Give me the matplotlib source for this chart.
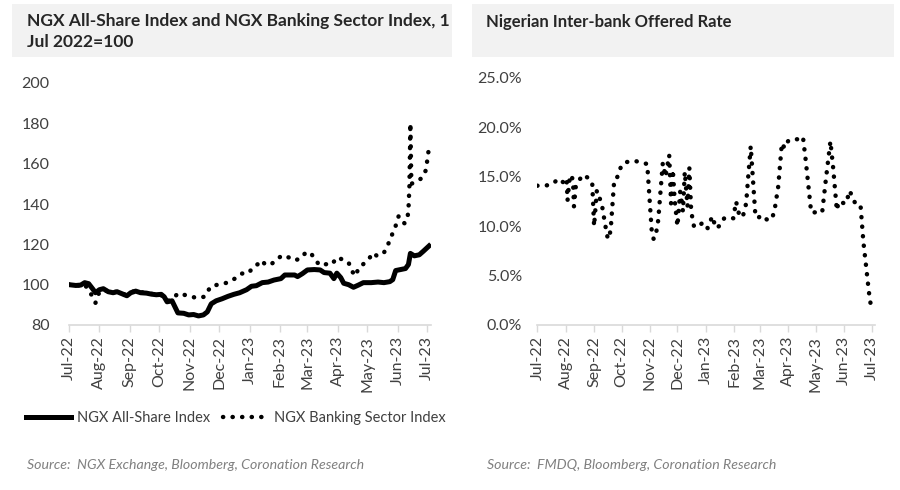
import pandas as pd
import matplotlib.pyplot as plt
import matplotlib.dates as mdates
from matplotlib.patches import Rectangle
from matplotlib.ticker import FuncFormatter

plt.rcParams['font.family'] = ['Lato', 'DejaVu Sans']

# NGX All-Share Index, rebased 1 Jul 2022 = 100
asi_dates = ["2022-07-01", "2022-07-08", "2022-07-13", "2022-07-17", "2022-07-21", "2022-07-25",
             "2022-07-28", "2022-08-01", "2022-08-05", "2022-08-10", "2022-08-15", "2022-08-19",
             "2022-08-24", "2022-08-29", "2022-09-02", "2022-09-07", "2022-09-12", "2022-09-18",
             "2022-09-23", "2022-09-28", "2022-10-03", "2022-10-06", "2022-10-09", "2022-10-14",
             "2022-10-17", "2022-10-20", "2022-10-26", "2022-10-31", "2022-11-05", "2022-11-10",
             "2022-11-15", "2022-11-19", "2022-11-23", "2022-11-28", "2022-12-04", "2022-12-10",
             "2022-12-16", "2022-12-22", "2022-12-29", "2023-01-03", "2023-01-08", "2023-01-14",
             "2023-01-20", "2023-01-26", "2023-02-02", "2023-02-06", "2023-02-12", "2023-02-16",
             "2023-02-19", "2023-02-24", "2023-03-01", "2023-03-08", "2023-03-14", "2023-03-18",
             "2023-03-24", "2023-03-28", "2023-03-31", "2023-04-04", "2023-04-07", "2023-04-12",
             "2023-04-17", "2023-04-22", "2023-04-27", "2023-05-05", "2023-05-12", "2023-05-18",
             "2023-05-24", "2023-05-27", "2023-05-30", "2023-06-04", "2023-06-09", "2023-06-12",
             "2023-06-14", "2023-06-18", "2023-06-23", "2023-06-27", "2023-07-03"]
asi_values = [100, 99.6, 99.8, 101, 100.5, 98, 96, 97.5, 98, 96.5, 96, 96.5,
              95.5, 94.5, 96, 96.8, 96, 95.8, 95.3, 95, 95.2, 94, 91.5, 92,
              89, 86, 85.8, 85, 85.2, 84.5, 85, 86.5, 90.5, 92, 93, 94.2,
              95.2, 96, 97.5, 99.2, 99.5, 101, 101.3, 102.3, 103, 104.8, 104.8, 104.8,
              104, 105.5, 107.3, 107.5, 107.3, 106, 105.7, 103, 105.7, 103.5, 100.7, 100,
              98.7, 99.8, 101, 101, 101.3, 101, 101.5, 102.5, 107, 107.5, 108, 110,
              115.5, 114.3, 114.8, 116.5, 119.2]

# NGX Banking Sector Index, rebased 1 Jul 2022 = 100
bank_dates = ["2022-07-01", "2022-07-10", "2022-07-17", "2022-07-21", "2022-07-24", "2022-07-28",
              "2022-08-01", "2022-08-06", "2022-08-12", "2022-08-18", "2022-08-25", "2022-09-01",
              "2022-09-08", "2022-09-15", "2022-09-22", "2022-09-29", "2022-10-05", "2022-10-10",
              "2022-10-15", "2022-10-20", "2022-10-27", "2022-11-02", "2022-11-08", "2022-11-16",
              "2022-11-19", "2022-11-23", "2022-11-28", "2022-12-05", "2022-12-10", "2022-12-17",
              "2022-12-24", "2022-12-31", "2023-01-05", "2023-01-11", "2023-01-14", "2023-01-17",
              "2023-01-24", "2023-02-03", "2023-02-10", "2023-02-16", "2023-02-22", "2023-02-28",
              "2023-03-05", "2023-03-09", "2023-03-13", "2023-03-21", "2023-03-26", "2023-03-31",
              "2023-04-07", "2023-04-12", "2023-04-15", "2023-04-19", "2023-04-22", "2023-04-27",
              "2023-05-03", "2023-05-07", "2023-05-11", "2023-05-18", "2023-05-21", "2023-05-24",
              "2023-05-27", "2023-05-31", "2023-06-02", "2023-06-05", "2023-06-08", "2023-06-11",
              "2023-06-12", "2023-06-13", "2023-06-14", "2023-06-15", "2023-06-19", "2023-06-23",
              "2023-06-26", "2023-06-30", "2023-07-02", "2023-07-04"]
bank_values = [100, 99.5, 100.5, 96.5, 95, 91, 96.5, 97.5, 96, 96.5, 95, 96.2,
               97, 96, 95.5, 95.2, 94.5, 92, 93, 95.7, 94.9, 94.2, 93.4, 94,
               96.5, 99.3, 99.8, 100.6, 101, 103, 105.5, 105.7, 108.9, 110.6, 112, 109.8,
               110.5, 114.5, 113.5, 112, 113, 116.3, 115.2, 112.7, 109.7, 110.2, 110, 113.5,
               112.3, 111, 107, 104.3, 108, 110.2, 113, 115.8, 114.2, 115.8, 118.8, 121.8,
               125.7, 130.4, 134, 132, 130.4, 133, 137, 149, 180, 150, 151, 152,
               153, 157, 165, 169.5]

# Nigerian Inter-bank Offered Rate (%)
nibor_dates = ["2022-07-01", "2022-07-10", "2022-07-18", "2022-07-24", "2022-07-30", "2022-08-02",
               "2022-08-03", "2022-08-05", "2022-08-07", "2022-08-09", "2022-08-10", "2022-08-12",
               "2022-08-16", "2022-08-20", "2022-08-27", "2022-08-30", "2022-09-01", "2022-09-04",
               "2022-09-08", "2022-09-10", "2022-09-13", "2022-09-16", "2022-09-19", "2022-09-23",
               "2022-09-26", "2022-09-28", "2022-10-01", "2022-10-07", "2022-10-16", "2022-10-24",
               "2022-10-29", "2022-11-03", "2022-11-05", "2022-11-07", "2022-11-10", "2022-11-15",
               "2022-11-18", "2022-11-22", "2022-11-24", "2022-11-26", "2022-11-28", "2022-12-01",
               "2022-12-04", "2022-12-07", "2022-12-09", "2022-12-12", "2022-12-14", "2022-12-16",
               "2022-12-19", "2022-12-23", "2022-12-29", "2023-01-03", "2023-01-08", "2023-01-12",
               "2023-01-17", "2023-01-21", "2023-01-25", "2023-01-31", "2023-02-03", "2023-02-07",
               "2023-02-11", "2023-02-14", "2023-02-16", "2023-02-19", "2023-02-24", "2023-02-27",
               "2023-03-02", "2023-03-09", "2023-03-14", "2023-03-17", "2023-03-21", "2023-03-25",
               "2023-03-28", "2023-04-01", "2023-04-06", "2023-04-11", "2023-04-17", "2023-04-20",
               "2023-04-26", "2023-05-03", "2023-05-08", "2023-05-12", "2023-05-17", "2023-05-20",
               "2023-05-24", "2023-05-26", "2023-05-28", "2023-06-03", "2023-06-07", "2023-06-11",
               "2023-06-15", "2023-06-19", "2023-06-22", "2023-06-25", "2023-06-27", "2023-06-28",
               "2023-06-29", "2023-07-01"]
nibor_values = [14.1, 14.1, 14.3, 14.8, 14.4, 14.8, 12.6, 14.6, 15.2, 14.6, 12.0, 14.0,
                14.7, 15.2, 14.8, 14.3, 10.0, 13.6, 12.6, 11.9, 10.2, 8.7, 9.5, 14.7,
                14.9, 15.4, 16.2, 16.5, 16.6, 16.4, 16.3, 9.4, 8.7, 8.9, 10.6, 16.4,
                15.0, 17.2, 12.3, 15.7, 12.6, 10.0, 13.5, 11.5, 15.5, 12.0, 15.9, 11.5,
                10.0, 9.9, 10.4, 9.8, 11.0, 9.8, 10.1, 10.8, 10.9, 10.8, 12.5, 10.9,
                11.2, 12.3, 14.7, 18.1, 11.2, 10.8, 11.1, 10.65, 10.7, 11.6, 14.0, 18.4,
                17.9, 18.65, 18.8, 18.8, 19.05, 16.7, 11.4, 11.4, 11.4, 14.7, 18.6, 15.9,
                11.6, 12.5, 12.4, 12.3, 13.6, 12.7, 12.0, 11.97, 8.4, 5.9, 4.2, 3.4,
                2.5, 1.8]

W, H = 900, 490
TEXT = '#404040'
AXIS = '#d9d9d9'


def fx(px):
    return px / W


def fy(py):
    return 1 - py / H


def style_axis(ax):
    for s in ['top', 'right', 'left']:
        ax.spines[s].set_visible(False)
    ax.spines['bottom'].set_color(AXIS)
    ax.spines['bottom'].set_linewidth(1.2)
    ax.xaxis.set_major_locator(mdates.MonthLocator())
    ax.xaxis.set_major_formatter(mdates.DateFormatter('%b-%y'))
    ax.tick_params(axis='x', colors=AXIS, length=5, width=1, labelcolor=TEXT,
                   labelsize=11.5, labelrotation=90, pad=3)
    ax.tick_params(axis='y', length=0, labelcolor=TEXT, labelsize=11.5)


fig = plt.figure(figsize=(W / 100, H / 100), dpi=100)

# grey title boxes
fig.patches.append(Rectangle((fx(12), fy(57)), fx(440), 53 / H, transform=fig.transFigure,
                             facecolor='#f2f2f2', edgecolor='none', zorder=0))
fig.patches.append(Rectangle((fx(472), fy(57)), fx(422), 53 / H, transform=fig.transFigure,
                             facecolor='#f2f2f2', edgecolor='none', zorder=0))
fig.text(fx(27), fy(13), "NGX All-Share Index and NGX Banking Sector Index, 1\nJul 2022=100",
         fontsize=12.5, fontweight='bold', color='#262626', va='top', ha='left', linespacing=1.4)
fig.text(fx(486), fy(22), "Nigerian Inter-bank Offered Rate",
         fontsize=12, fontweight='bold', color='#262626', va='center', ha='left')

# left chart
ax1 = fig.add_axes([fx(69), fy(325), fx(362), 242 / H])
ax1.plot(pd.to_datetime(asi_dates), asi_values, color='black', lw=3.6,
         solid_joinstyle='round', label='NGX All-Share Index')
ax1.plot(pd.to_datetime(bank_dates), bank_values, color='black', lw=3.2,
         linestyle=(0, (0.05, 2.1)), dash_capstyle='round', label='NGX Banking Sector Index')
ax1.set_xlim(pd.Timestamp("2022-07-01"), pd.Timestamp("2023-07-05"))
ax1.set_ylim(80, 200)
ax1.set_yticks([80, 100, 120, 140, 160, 180, 200])
style_axis(ax1)
ax1.tick_params(axis='y', pad=14)

# right chart
ax2 = fig.add_axes([fx(537.3), fy(325), fx(338), 247 / H])
ax2.plot(pd.to_datetime(nibor_dates), nibor_values, color='black', lw=3.2,
         linestyle=(0, (0.05, 2.1)), dash_capstyle='round')
ax2.set_xlim(pd.Timestamp("2022-07-01"), pd.Timestamp("2023-07-05"))
ax2.set_ylim(0, 25)
ax2.set_yticks([0, 5, 10, 15, 20, 25])
ax2.yaxis.set_major_formatter(FuncFormatter(lambda v, p: f"{v:.1f}%"))
style_axis(ax2)
ax2.tick_params(axis='y', pad=11)

# legend
leg = fig.legend(*ax1.get_legend_handles_labels(), loc='center', ncol=2, frameon=False,
                 bbox_to_anchor=(fx(236), fy(418)), fontsize=10.5, handlelength=3.1,
                 handletextpad=0.4, columnspacing=0.9, labelcolor=TEXT)

fig.text(fx(27), fy(465), "Source:  NGX Exchange, Bloomberg, Coronation Research",
         fontsize=10.2, style='italic', color='#808080', va='center', ha='left')
fig.text(fx(487), fy(465), "Source:  FMDQ, Bloomberg, Coronation Research",
         fontsize=10.2, style='italic', color='#808080', va='center', ha='left')

fig.savefig('out.png', dpi=100)
